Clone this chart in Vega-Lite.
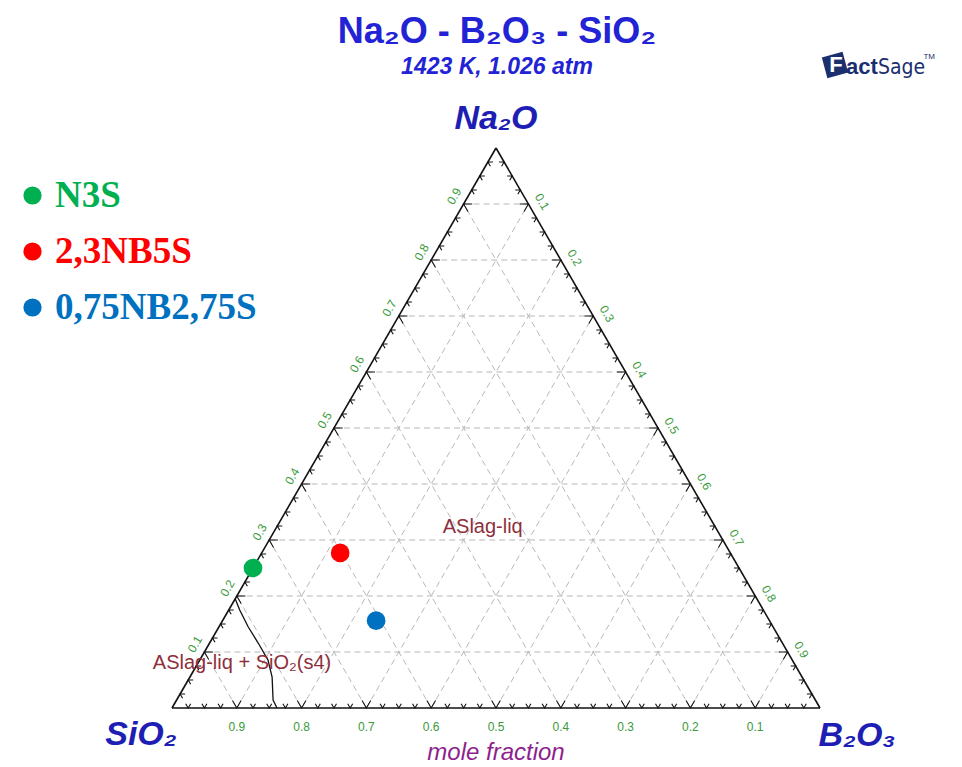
{
  "$schema": "https://vega.github.io/schema/vega-lite/v6.json",
  "width": 962,
  "height": 677,
  "autosize": {"type": "none"},
  "padding": {"left": 0, "top": 90, "right": 0, "bottom": 0},
  "background": "white",
  "title": {
    "text": "Na₂O - B₂O₃ - SiO₂",
    "subtitle": "1423 K, 1.026 atm",
    "anchor": "middle",
    "frame": "group",
    "dx": 16,
    "offset": -28,
    "font": "Liberation Sans",
    "fontSize": 36,
    "fontWeight": "bold",
    "color": "#2323d6",
    "subtitleFont": "Liberation Sans",
    "subtitleFontSize": 23,
    "subtitleFontWeight": "bold",
    "subtitleFontStyle": "italic",
    "subtitleColor": "#2323d6",
    "subtitlePadding": 5
  },
  "datasets": {
    "one": [{"k": 1}],
    "segs": [
      {"t": "edge", "a1": 0, "b1": 0, "a2": 0, "b2": 1},
      {"t": "edge", "a1": 0, "b1": 1, "a2": 1, "b2": 0},
      {"t": "edge", "a1": 1, "b1": 0, "a2": 0, "b2": 0},
      {"t": "grid", "a1": 0.1, "b1": 0, "a2": 0.1, "b2": 0.9},
      {"t": "grid", "a1": 0.2, "b1": 0, "a2": 0.2, "b2": 0.8},
      {"t": "grid", "a1": 0.3, "b1": 0, "a2": 0.3, "b2": 0.7},
      {"t": "grid", "a1": 0.4, "b1": 0, "a2": 0.4, "b2": 0.6},
      {"t": "grid", "a1": 0.5, "b1": 0, "a2": 0.5, "b2": 0.5},
      {"t": "grid", "a1": 0.6, "b1": 0, "a2": 0.6, "b2": 0.4},
      {"t": "grid", "a1": 0.7, "b1": 0, "a2": 0.7, "b2": 0.3},
      {"t": "grid", "a1": 0.8, "b1": 0, "a2": 0.8, "b2": 0.2},
      {"t": "grid", "a1": 0.9, "b1": 0, "a2": 0.9, "b2": 0.1},
      {"t": "grid", "a1": 0, "b1": 0.1, "a2": 0.9, "b2": 0.1},
      {"t": "grid", "a1": 0, "b1": 0.2, "a2": 0.8, "b2": 0.2},
      {"t": "grid", "a1": 0, "b1": 0.3, "a2": 0.7, "b2": 0.3},
      {"t": "grid", "a1": 0, "b1": 0.4, "a2": 0.6, "b2": 0.4},
      {"t": "grid", "a1": 0, "b1": 0.5, "a2": 0.5, "b2": 0.5},
      {"t": "grid", "a1": 0, "b1": 0.6, "a2": 0.4, "b2": 0.6},
      {"t": "grid", "a1": 0, "b1": 0.7, "a2": 0.3, "b2": 0.7},
      {"t": "grid", "a1": 0, "b1": 0.8, "a2": 0.2, "b2": 0.8},
      {"t": "grid", "a1": 0, "b1": 0.9, "a2": 0.1, "b2": 0.9},
      {"t": "grid", "a1": 0, "b1": 0.9, "a2": 0.9, "b2": 0},
      {"t": "grid", "a1": 0, "b1": 0.8, "a2": 0.8, "b2": 0},
      {"t": "grid", "a1": 0, "b1": 0.7, "a2": 0.7, "b2": 0},
      {"t": "grid", "a1": 0, "b1": 0.6, "a2": 0.6, "b2": 0},
      {"t": "grid", "a1": 0, "b1": 0.5, "a2": 0.5, "b2": 0},
      {"t": "grid", "a1": 0, "b1": 0.4, "a2": 0.4, "b2": 0},
      {"t": "grid", "a1": 0, "b1": 0.3, "a2": 0.3, "b2": 0},
      {"t": "grid", "a1": 0, "b1": 0.2, "a2": 0.2, "b2": 0},
      {"t": "grid", "a1": 0, "b1": 0.1, "a2": 0.1, "b2": 0}
    ],
    "boundary": [
      {"i": 0, "Na2O": 0.195, "B2O3": 0.0},
      {"i": 1, "Na2O": 0.175, "B2O3": 0.017},
      {"i": 2, "Na2O": 0.145, "B2O3": 0.045},
      {"i": 3, "Na2O": 0.116, "B2O3": 0.075},
      {"i": 4, "Na2O": 0.086, "B2O3": 0.105},
      {"i": 5, "Na2O": 0.055, "B2O3": 0.127},
      {"i": 6, "Na2O": 0.014, "B2O3": 0.149},
      {"i": 7, "Na2O": 0.0, "B2O3": 0.162}
    ],
    "ticks": [
      {"v": 0.025, "k": 0, "s": ["B", "L", "R"]},
      {"v": 0.05, "k": 0, "s": ["B", "L", "R"]},
      {"v": 0.075, "k": 0, "s": ["B", "L", "R"]},
      {"v": 0.1, "k": 1, "s": ["B", "L", "R"]},
      {"v": 0.125, "k": 0, "s": ["B", "L", "R"]},
      {"v": 0.15, "k": 0, "s": ["B", "L", "R"]},
      {"v": 0.175, "k": 0, "s": ["B", "L", "R"]},
      {"v": 0.2, "k": 1, "s": ["B", "L", "R"]},
      {"v": 0.225, "k": 0, "s": ["B", "L", "R"]},
      {"v": 0.25, "k": 0, "s": ["B", "L", "R"]},
      {"v": 0.275, "k": 0, "s": ["B", "L", "R"]},
      {"v": 0.3, "k": 1, "s": ["B", "L", "R"]},
      {"v": 0.325, "k": 0, "s": ["B", "L", "R"]},
      {"v": 0.35, "k": 0, "s": ["B", "L", "R"]},
      {"v": 0.375, "k": 0, "s": ["B", "L", "R"]},
      {"v": 0.4, "k": 1, "s": ["B", "L", "R"]},
      {"v": 0.425, "k": 0, "s": ["B", "L", "R"]},
      {"v": 0.45, "k": 0, "s": ["B", "L", "R"]},
      {"v": 0.475, "k": 0, "s": ["B", "L", "R"]},
      {"v": 0.5, "k": 1, "s": ["B", "L", "R"]},
      {"v": 0.525, "k": 0, "s": ["B", "L", "R"]},
      {"v": 0.55, "k": 0, "s": ["B", "L", "R"]},
      {"v": 0.575, "k": 0, "s": ["B", "L", "R"]},
      {"v": 0.6, "k": 1, "s": ["B", "L", "R"]},
      {"v": 0.625, "k": 0, "s": ["B", "L", "R"]},
      {"v": 0.65, "k": 0, "s": ["B", "L", "R"]},
      {"v": 0.675, "k": 0, "s": ["B", "L", "R"]},
      {"v": 0.7, "k": 1, "s": ["B", "L", "R"]},
      {"v": 0.725, "k": 0, "s": ["B", "L", "R"]},
      {"v": 0.75, "k": 0, "s": ["B", "L", "R"]},
      {"v": 0.775, "k": 0, "s": ["B", "L", "R"]},
      {"v": 0.8, "k": 1, "s": ["B", "L", "R"]},
      {"v": 0.825, "k": 0, "s": ["B", "L", "R"]},
      {"v": 0.85, "k": 0, "s": ["B", "L", "R"]},
      {"v": 0.875, "k": 0, "s": ["B", "L", "R"]},
      {"v": 0.9, "k": 1, "s": ["B", "L", "R"]},
      {"v": 0.925, "k": 0, "s": ["B", "L", "R"]},
      {"v": 0.95, "k": 0, "s": ["B", "L", "R"]},
      {"v": 0.975, "k": 0, "s": ["B", "L", "R"]}
    ],
    "samples": [
      {"name": "N3S", "Na2O": 0.25, "B2O3": 0.0},
      {"name": "2,3NB5S", "Na2O": 0.277, "B2O3": 0.121},
      {"name": "0,75NB2,75S", "Na2O": 0.156, "B2O3": 0.237}
    ],
    "phases": [
      {"label": "ASlag-liq", "Na2O": 0.323, "B2O3": 0.318},
      {"label": "ASlag-liq + SiO₂(s4)", "Na2O": 0.08, "B2O3": 0.068}
    ]
  },
  "layer": [
    {
      "data": {"name": "segs"},
      "transform": [
        {"filter": "datum.t === 'grid'"},
        {"calculate": "datum.b1 + datum.a1 / 2", "as": "x"},
        {"calculate": "datum.a1", "as": "y"},
        {"calculate": "datum.b2 + datum.a2 / 2", "as": "xe"},
        {"calculate": "datum.a2", "as": "ye"}
      ],
      "mark": {"type": "rule", "color": "#b8b8b8", "strokeWidth": 1, "strokeDash": [6, 4]},
      "encoding": {
        "x": {"field": "x", "type": "quantitative", "scale": {"domain": [-0.26543, 1.21914], "nice": false, "zero": false}, "axis": null},
        "y": {"field": "y", "type": "quantitative", "scale": {"domain": [-0.10536, 1.10357], "nice": false, "zero": false}, "axis": null},
        "x2": {"field": "xe"},
        "y2": {"field": "ye"}
      }
    },
    {
      "data": {"name": "segs"},
      "transform": [
        {"filter": "datum.t === 'edge'"},
        {"calculate": "datum.b1 + datum.a1 / 2", "as": "x"},
        {"calculate": "datum.a1", "as": "y"},
        {"calculate": "datum.b2 + datum.a2 / 2", "as": "xe"},
        {"calculate": "datum.a2", "as": "ye"}
      ],
      "mark": {"type": "rule", "color": "#111111", "strokeWidth": 1.6},
      "encoding": {
        "x": {"field": "x", "type": "quantitative", "scale": {"domain": [-0.26543, 1.21914], "nice": false, "zero": false}, "axis": null},
        "y": {"field": "y", "type": "quantitative", "scale": {"domain": [-0.10536, 1.10357], "nice": false, "zero": false}, "axis": null},
        "x2": {"field": "xe"},
        "y2": {"field": "ye"}
      }
    },
    {
      "data": {"name": "boundary"},
      "transform": [
        {"calculate": "datum.B2O3 + datum.Na2O / 2", "as": "x"},
        {"calculate": "datum.Na2O", "as": "y"}
      ],
      "mark": {"type": "line", "color": "#111111", "strokeWidth": 1.3},
      "encoding": {
        "x": {"field": "x", "type": "quantitative", "scale": {"domain": [-0.26543, 1.21914], "nice": false, "zero": false}, "axis": null},
        "y": {"field": "y", "type": "quantitative", "scale": {"domain": [-0.10536, 1.10357], "nice": false, "zero": false}, "axis": null},
        "order": {"field": "i", "type": "quantitative"}
      }
    },
    {
      "data": {"name": "ticks"},
      "transform": [
        {"flatten": ["s"]},
        {"calculate": "datum.s === 'L' ? datum.v : datum.s === 'R' ? 1 - datum.v : 0", "as": "Na2O"},
        {"calculate": "datum.s === 'L' ? 0 : datum.s === 'R' ? datum.v : 1 - datum.v", "as": "B2O3"},
        {"calculate": "datum.B2O3 + datum.Na2O / 2", "as": "x"},
        {"calculate": "datum.Na2O", "as": "y"},
        {"calculate": "datum.s === 'B' ? 0 : datum.s === 'L' ? 120 : 240", "as": "ang"}
      ],
      "mark": {"type": "point", "shape": "M-0.5,-0.866L0,0L0.5,-0.866", "filled": false, "stroke": "#111111", "strokeWidth": 1.1, "opacity": 1},
      "encoding": {
        "x": {"field": "x", "type": "quantitative", "scale": {"domain": [-0.26543, 1.21914], "nice": false, "zero": false}, "axis": null},
        "y": {"field": "y", "type": "quantitative", "scale": {"domain": [-0.10536, 1.10357], "nice": false, "zero": false}, "axis": null},
        "angle": {"field": "ang", "type": "quantitative", "scale": null},
        "size": {"condition": {"test": "datum.k === 1", "value": 300}, "value": 100}
      }
    },
    {
      "data": {"name": "ticks"},
      "transform": [
        {"flatten": ["s"]},
        {"filter": "datum.k === 1 && datum.s === 'B'"},
        {"calculate": "1 - datum.v", "as": "x"},
        {"calculate": "0", "as": "y"}
      ],
      "mark": {"type": "text", "font": "Liberation Sans", "fontSize": 12, "color": "#3a9a3a", "align": "center", "baseline": "middle", "dy": 19},
      "encoding": {
        "x": {"field": "x", "type": "quantitative", "scale": {"domain": [-0.26543, 1.21914], "nice": false, "zero": false}, "axis": null},
        "y": {"field": "y", "type": "quantitative", "scale": {"domain": [-0.10536, 1.10357], "nice": false, "zero": false}, "axis": null},
        "text": {"field": "v", "type": "quantitative", "format": ".1f"}
      }
    },
    {
      "data": {"name": "ticks"},
      "transform": [
        {"flatten": ["s"]},
        {"filter": "datum.k === 1 && datum.s === 'L'"},
        {"calculate": "datum.v / 2", "as": "x"},
        {"calculate": "datum.v", "as": "y"}
      ],
      "mark": {"type": "text", "font": "Liberation Sans", "fontSize": 12, "color": "#3a9a3a", "align": "center", "baseline": "middle", "angle": 300, "dx": 2, "dy": -12},
      "encoding": {
        "x": {"field": "x", "type": "quantitative", "scale": {"domain": [-0.26543, 1.21914], "nice": false, "zero": false}, "axis": null},
        "y": {"field": "y", "type": "quantitative", "scale": {"domain": [-0.10536, 1.10357], "nice": false, "zero": false}, "axis": null},
        "text": {"field": "v", "type": "quantitative", "format": ".1f"}
      }
    },
    {
      "data": {"name": "ticks"},
      "transform": [
        {"flatten": ["s"]},
        {"filter": "datum.k === 1 && datum.s === 'R'"},
        {"calculate": "(1 + datum.v) / 2", "as": "x"},
        {"calculate": "1 - datum.v", "as": "y"}
      ],
      "mark": {"type": "text", "font": "Liberation Sans", "fontSize": 12, "color": "#3a9a3a", "align": "center", "baseline": "middle", "angle": 60, "dx": 5, "dy": -13},
      "encoding": {
        "x": {"field": "x", "type": "quantitative", "scale": {"domain": [-0.26543, 1.21914], "nice": false, "zero": false}, "axis": null},
        "y": {"field": "y", "type": "quantitative", "scale": {"domain": [-0.10536, 1.10357], "nice": false, "zero": false}, "axis": null},
        "text": {"field": "v", "type": "quantitative", "format": ".1f"}
      }
    },
    {
      "data": {"name": "phases"},
      "transform": [
        {"calculate": "datum.B2O3 + datum.Na2O / 2", "as": "x"},
        {"calculate": "datum.Na2O", "as": "y"}
      ],
      "mark": {"type": "text", "font": "Liberation Sans", "fontSize": 20, "color": "#8e2f3c", "align": "center", "baseline": "middle"},
      "encoding": {
        "x": {"field": "x", "type": "quantitative", "scale": {"domain": [-0.26543, 1.21914], "nice": false, "zero": false}, "axis": null},
        "y": {"field": "y", "type": "quantitative", "scale": {"domain": [-0.10536, 1.10357], "nice": false, "zero": false}, "axis": null},
        "text": {"field": "label", "type": "nominal"}
      }
    },
    {
      "data": {"name": "samples"},
      "transform": [
        {"calculate": "datum.B2O3 + datum.Na2O / 2", "as": "x"},
        {"calculate": "datum.Na2O", "as": "y"}
      ],
      "mark": {"type": "point", "shape": "circle", "filled": true, "opacity": 1, "size": 350},
      "encoding": {
        "x": {"field": "x", "type": "quantitative", "scale": {"domain": [-0.26543, 1.21914], "nice": false, "zero": false}, "axis": null},
        "y": {"field": "y", "type": "quantitative", "scale": {"domain": [-0.10536, 1.10357], "nice": false, "zero": false}, "axis": null},
        "color": {
          "field": "name",
          "type": "nominal",
          "scale": {"domain": ["N3S", "2,3NB5S", "0,75NB2,75S"], "range": ["#00b050", "#ff0000", "#0070c0"]},
          "legend": {
            "orient": "none",
            "legendX": 14,
            "legendY": 87,
            "title": null,
            "padding": 0,
            "symbolType": "circle",
            "symbolSize": 330,
            "symbolStrokeWidth": 0,
            "symbolOpacity": 1,
            "labelFont": "Liberation Serif",
            "labelFontWeight": "bold",
            "labelFontSize": 37,
            "labelOffset": 4,
            "labelLimit": 400,
            "rowPadding": 18,
            "encode": {
              "labels": {
                "update": {
                  "fill": {"signal": "datum.value === 'N3S' ? '#00b050' : datum.value === '2,3NB5S' ? '#ff0000' : '#0070c0'"}
                }
              }
            }
          }
        }
      }
    },
    {
      "data": {"name": "one"},
      "mark": {"type": "text", "font": "Liberation Sans", "fontSize": 34, "fontWeight": "bold", "fontStyle": "italic", "color": "#1e1eb4", "align": "center", "baseline": "middle", "dy": -29},
      "encoding": {
        "x": {"datum": 0.5, "type": "quantitative", "scale": {"domain": [-0.26543, 1.21914], "nice": false, "zero": false}, "axis": null},
        "y": {"datum": 1, "type": "quantitative", "scale": {"domain": [-0.10536, 1.10357], "nice": false, "zero": false}, "axis": null},
        "text": {"value": "Na₂O"}
      }
    },
    {
      "data": {"name": "one"},
      "mark": {"type": "text", "font": "Liberation Sans", "fontSize": 34, "fontWeight": "bold", "fontStyle": "italic", "color": "#1e1eb4", "align": "center", "baseline": "middle", "dx": -31, "dy": 27},
      "encoding": {
        "x": {"datum": 0, "type": "quantitative", "scale": {"domain": [-0.26543, 1.21914], "nice": false, "zero": false}, "axis": null},
        "y": {"datum": 0, "type": "quantitative", "scale": {"domain": [-0.10536, 1.10357], "nice": false, "zero": false}, "axis": null},
        "text": {"value": "SiO₂"}
      }
    },
    {
      "data": {"name": "one"},
      "mark": {"type": "text", "font": "Liberation Sans", "fontSize": 34, "fontWeight": "bold", "fontStyle": "italic", "color": "#1e1eb4", "align": "center", "baseline": "middle", "dx": 37, "dy": 28},
      "encoding": {
        "x": {"datum": 1, "type": "quantitative", "scale": {"domain": [-0.26543, 1.21914], "nice": false, "zero": false}, "axis": null},
        "y": {"datum": 0, "type": "quantitative", "scale": {"domain": [-0.10536, 1.10357], "nice": false, "zero": false}, "axis": null},
        "text": {"value": "B₂O₃"}
      }
    },
    {
      "data": {"name": "one"},
      "mark": {"type": "text", "font": "Liberation Sans", "fontSize": 24, "fontStyle": "italic", "color": "#8e1f8e", "align": "center", "baseline": "middle", "dy": 45},
      "encoding": {
        "x": {"datum": 0.5, "type": "quantitative", "scale": {"domain": [-0.26543, 1.21914], "nice": false, "zero": false}, "axis": null},
        "y": {"datum": 0, "type": "quantitative", "scale": {"domain": [-0.10536, 1.10357], "nice": false, "zero": false}, "axis": null},
        "text": {"value": "mole fraction"}
      }
    },
    {
      "data": {"name": "one"},
      "mark": {"type": "point", "shape": "square", "filled": true, "color": "#1b2f6e", "opacity": 1, "size": 460, "angle": -15},
      "encoding": {
        "x": {"datum": 1.0231, "type": "quantitative", "scale": {"domain": [-0.26543, 1.21914], "nice": false, "zero": false}, "axis": null},
        "y": {"datum": 1.1482, "type": "quantitative", "scale": {"domain": [-0.10536, 1.10357], "nice": false, "zero": false}, "axis": null}
      }
    },
    {
      "data": {"name": "one"},
      "mark": {"type": "text", "font": "Liberation Sans", "fontSize": 22, "fontWeight": "bold", "color": "white", "align": "center", "baseline": "middle", "dx": 1},
      "encoding": {
        "x": {"datum": 1.0231, "type": "quantitative", "scale": {"domain": [-0.26543, 1.21914], "nice": false, "zero": false}, "axis": null},
        "y": {"datum": 1.1482, "type": "quantitative", "scale": {"domain": [-0.10536, 1.10357], "nice": false, "zero": false}, "axis": null},
        "text": {"value": "F"}
      }
    },
    {
      "data": {"name": "one"},
      "mark": {"type": "text", "font": "Liberation Sans", "fontSize": 22, "fontWeight": "bold", "color": "#1b2f6e", "align": "left", "baseline": "middle"},
      "encoding": {
        "x": {"datum": 1.0401, "type": "quantitative", "scale": {"domain": [-0.26543, 1.21914], "nice": false, "zero": false}, "axis": null},
        "y": {"datum": 1.145, "type": "quantitative", "scale": {"domain": [-0.10536, 1.10357], "nice": false, "zero": false}, "axis": null},
        "text": {"value": "act"}
      }
    },
    {
      "data": {"name": "one"},
      "mark": {"type": "text", "font": "Liberation Sans Narrow, DejaVu Sans Condensed, sans-serif", "fontSize": 21, "color": "#1b2f6e", "align": "left", "baseline": "middle"},
      "encoding": {
        "x": {"datum": 1.0895, "type": "quantitative", "scale": {"domain": [-0.26543, 1.21914], "nice": false, "zero": false}, "axis": null},
        "y": {"datum": 1.142, "type": "quantitative", "scale": {"domain": [-0.10536, 1.10357], "nice": false, "zero": false}, "axis": null},
        "text": {"value": "Sage"}
      }
    },
    {
      "data": {"name": "one"},
      "mark": {"type": "text", "font": "Liberation Sans", "fontSize": 8, "color": "#1b2f6e", "align": "left", "baseline": "middle"},
      "encoding": {
        "x": {"datum": 1.1597, "type": "quantitative", "scale": {"domain": [-0.26543, 1.21914], "nice": false, "zero": false}, "axis": null},
        "y": {"datum": 1.163, "type": "quantitative", "scale": {"domain": [-0.10536, 1.10357], "nice": false, "zero": false}, "axis": null},
        "text": {"value": "TM"}
      }
    }
  ],
  "config": {"view": {"stroke": null}}
}
